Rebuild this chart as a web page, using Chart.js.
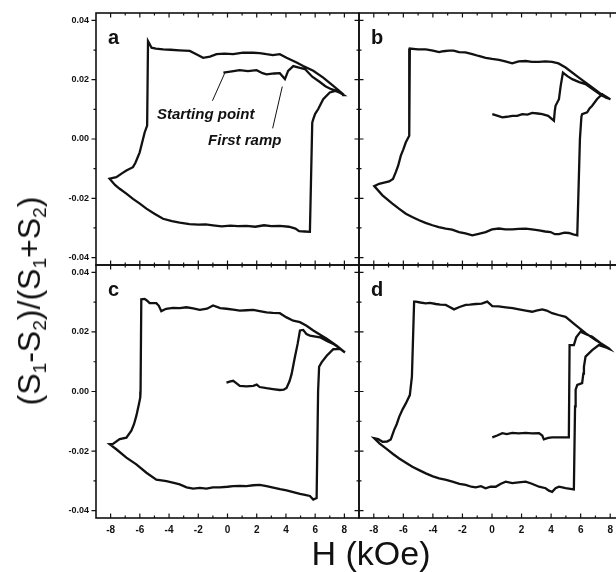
<!DOCTYPE html>
<html>
<head>
<meta charset="utf-8">
<script src="https://cdn.jsdelivr.net/npm/chart.js@4.4.0/dist/chart.umd.min.js"></script>
<style>
  html, body { margin: 0; padding: 0; background: #fff; }
  #wrap { position: relative; width: 616px; height: 572px; overflow: hidden; }
  canvas { position: absolute; left: 0; top: 0; }
  .ytitle {
    position: absolute; left: 29px; top: 301px;
    transform: translate(-50%, -50%) rotate(-90deg);
    font: 32px "Liberation Sans", Arial, sans-serif; color: #111;
    white-space: nowrap; line-height: 32px;
  }
  .ytitle sub { font-size: 0.6em; vertical-align: -0.3em; line-height: 0; }
  .xtitle {
    position: absolute; left: 371px; top: 536px;
    transform: translateX(-50%);
    font: 34px "Liberation Sans", Arial, sans-serif; color: #111;
    white-space: nowrap; line-height: 34px;
  }
</style>
</head>
<body>
<div id="wrap">
  <canvas id="pa" width="640" height="572"></canvas>
  <canvas id="pb" width="640" height="572"></canvas>
  <canvas id="pc" width="640" height="572"></canvas>
  <canvas id="pd" width="640" height="572"></canvas>
  <div class="ytitle">(S<sub>1</sub>-S<sub>2</sub>)/(S<sub>1</sub>+S<sub>2</sub>)</div>
  <div class="xtitle">H (kOe)</div>
</div>
<script>
// tick values
const xTicks = [-8, -6, -4, -2, 0, 2, 4, 6, 8];
const yTicks = [-0.04, -0.02, 0.00, 0.02, 0.04];

// [H (kOe), (S1-S2)/(S1+S2)], in sweep order
const loopA = [
  [-0.28, 0.0224], [0.3, 0.0228], [0.84, 0.0232], [1.4, 0.0229], [1.99, 0.0232], [2.4, 0.0222],
  [2.67, 0.0218], [3.2, 0.0221], [3.58, 0.0222], [3.93, 0.0202], [4.15, 0.023], [4.5, 0.0246],
  [4.96, 0.024], [5.3, 0.0236], [5.8, 0.021], [6.3, 0.0193], [6.7, 0.0178], [7.1, 0.0168],
  [7.5, 0.0162], [7.95, 0.0148],
  [7.92, 0.0151], [7.24, 0.0179], [6.55, 0.0207], [5.87, 0.023], [5.18, 0.0246], [4.73, 0.0258],
  [4.04, 0.0274], [3.58, 0.0286], [3.1, 0.0283], [2.67, 0.0286], [2.2, 0.029], [1.76, 0.0291],
  [1.07, 0.0291], [0.39, 0.0286], [-0.2, 0.0288], [-0.75, 0.0286], [-1.2, 0.0278], [-1.67, 0.0274],
  [-2.1, 0.0285], [-2.58, 0.0297], [-3.3, 0.0299], [-3.9, 0.0301], [-4.41, 0.0302], [-4.9, 0.0305],
  [-5.2, 0.0308], [-5.35, 0.0322], [-5.44, 0.033],
  [-5.5, 0.0045], [-5.67, 0.0022], [-6.01, -0.0045], [-6.3, -0.008], [-6.47, -0.0095],
  [-6.92, -0.0106], [-7.2, -0.0115], [-7.61, -0.0129], [-8.07, -0.0134],
  [-7.7, -0.0155], [-7.38, -0.0168], [-6.9, -0.0185], [-6.47, -0.0202], [-6.0, -0.0218],
  [-5.55, -0.0235], [-5.0, -0.0252], [-4.41, -0.0269], [-3.8, -0.0277], [-3.27, -0.0282],
  [-2.6, -0.0287], [-2.0, -0.0289], [-1.5, -0.0288], [-0.99, -0.0291], [-0.4, -0.0295],
  [0.2, -0.0292], [0.7, -0.0294], [1.3, -0.0293], [1.9, -0.0296], [2.5, -0.0291], [3.0, -0.0294],
  [3.58, -0.0293], [4.2, -0.0296], [4.65, -0.0302], [4.9, -0.0311], [5.3, -0.0312], [5.64, -0.0313],
  [5.8, 0.0055], [5.87, 0.0067], [6.0, 0.0085], [6.21, 0.0101], [6.4, 0.012], [6.55, 0.0134],
  [7.0, 0.0157], [7.4, 0.0162], [7.92, 0.0151]
];

const loopB = [
  [0.02, 0.0084], [0.4, 0.0078], [0.7, 0.0073], [1.0, 0.0075], [1.37, 0.0078], [1.7, 0.0078],
  [2.05, 0.0084], [2.4, 0.0082], [2.72, 0.0088], [3.1, 0.0086], [3.4, 0.0084], [3.8, 0.0078],
  [4.19, 0.0062], [4.25, 0.0095], [4.3, 0.0112], [4.53, 0.0134], [4.65, 0.018], [4.8, 0.0224],
  [5.1, 0.0212], [5.43, 0.0202], [5.9, 0.0192], [6.33, 0.0185], [6.9, 0.0165], [7.45, 0.0146],
  [8.02, 0.0134],
  [7.68, 0.014], [6.78, 0.0174], [5.88, 0.0207], [4.98, 0.0241], [4.5, 0.0255], [4.07, 0.026],
  [3.6, 0.0262], [3.18, 0.026], [2.7, 0.026], [2.28, 0.0263], [1.8, 0.0262], [1.37, 0.0255],
  [0.9, 0.0262], [0.47, 0.0267], [0.0, 0.027], [-0.43, 0.0274], [-0.9, 0.028], [-1.33, 0.0286],
  [-1.8, 0.0292], [-2.23, 0.0293], [-2.6, 0.0298], [-2.91, 0.0298], [-3.3, 0.0296],
  [-3.58, 0.0293], [-4.0, 0.0298], [-4.48, 0.0302], [-5.0, 0.0302], [-5.56, 0.0305],
  [-5.6, 0.0011], [-5.83, -0.0011], [-6.0, -0.0035], [-6.17, -0.0056], [-6.35, -0.009],
  [-6.51, -0.0112], [-6.7, -0.0135], [-6.96, -0.0143], [-7.3, -0.0147], [-7.64, -0.0151],
  [-7.97, -0.0159],
  [-7.41, -0.019], [-6.74, -0.0218], [-6.3, -0.0235], [-5.83, -0.0252], [-5.4, -0.0263],
  [-4.93, -0.0274], [-4.5, -0.0283], [-4.03, -0.0291], [-3.6, -0.0297], [-3.13, -0.0302],
  [-2.7, -0.0306], [-2.23, -0.0314], [-1.8, -0.0318], [-1.33, -0.0325], [-0.9, -0.032],
  [-0.43, -0.0314], [0.0, -0.0305], [0.47, -0.0302], [0.9, -0.0305], [1.37, -0.0305],
  [1.8, -0.0303], [2.28, -0.0302], [2.7, -0.0305], [3.18, -0.0308], [3.6, -0.0312],
  [3.97, -0.0314], [4.25, -0.0321], [4.53, -0.0321], [4.9, -0.0316], [5.2, -0.0317],
  [5.5, -0.0322], [5.77, -0.0325],
  [5.95, 0.0], [6.05, 0.0075], [6.1, 0.0084], [6.44, 0.009], [6.6, 0.0103], [6.78, 0.0112],
  [7.1, 0.0134], [7.45, 0.0151], [8.0, 0.0134]
];

const loopC = [
  [-0.07, 0.003], [0.2, 0.0034], [0.39, 0.0036], [0.6, 0.0028], [0.84, 0.0019], [1.3, 0.0017],
  [1.76, 0.0019], [2.0, 0.0023], [2.2, 0.0015], [2.67, 0.0011], [3.1, 0.0008], [3.58, 0.0005],
  [3.85, 0.0006], [4.04, 0.0012], [4.25, 0.0035], [4.39, 0.0059], [4.61, 0.0115], [4.8, 0.016],
  [4.96, 0.0205], [5.18, 0.0207], [5.4, 0.0193], [5.64, 0.0188], [6.33, 0.0182], [6.8, 0.017],
  [7.24, 0.016], [7.6, 0.0148], [8.04, 0.0131],
  [7.47, 0.0154], [6.79, 0.0177], [5.87, 0.0205], [5.41, 0.0221], [4.96, 0.0233], [4.5, 0.0238],
  [4.04, 0.0249], [3.58, 0.0263], [3.1, 0.0264], [2.67, 0.0266], [2.2, 0.027], [1.76, 0.0274],
  [1.3, 0.0273], [0.84, 0.0272], [0.4, 0.0275], [-0.07, 0.0278], [-0.5, 0.028], [-0.99, 0.0289],
  [-1.4, 0.0278], [-1.9, 0.0274], [-2.35, 0.0279], [-2.81, 0.0283], [-3.27, 0.028],
  [-3.73, 0.0281], [-4.2, 0.0278], [-4.53, 0.027], [-4.7, 0.0288], [-4.87, 0.0297],
  [-5.1, 0.0297], [-5.33, 0.0297], [-5.5, 0.0305], [-5.67, 0.0311], [-5.9, 0.031],
  [-5.95, 0.0], [-5.97, -0.002], [-6.06, -0.0042], [-6.24, -0.0082], [-6.4, -0.011],
  [-6.58, -0.0132], [-6.92, -0.0155], [-7.38, -0.016], [-7.84, -0.0176], [-8.07, -0.0177],
  [-7.61, -0.0194], [-6.92, -0.0222], [-6.24, -0.0245], [-5.55, -0.0273], [-4.87, -0.0296],
  [-4.18, -0.0301], [-3.6, -0.0308], [-3.27, -0.0312], [-2.8, -0.0322], [-2.35, -0.0326],
  [-1.9, -0.0324], [-1.44, -0.0326], [-1.0, -0.0322], [-0.53, -0.0322], [0.0, -0.032],
  [0.39, -0.0318], [0.84, -0.0317], [1.3, -0.0318], [1.76, -0.0315], [2.21, -0.0314],
  [2.67, -0.0318], [3.13, -0.0323], [3.6, -0.0328], [4.04, -0.0332], [4.5, -0.0338],
  [4.96, -0.0344], [5.3, -0.0347], [5.64, -0.0351], [5.87, -0.0363], [6.1, -0.0358],
  [6.2, 0.0], [6.27, 0.0083], [6.44, 0.0098], [6.79, 0.012], [7.24, 0.0142], [7.7, 0.0143],
  [8.04, 0.0131]
];

const loopD = [
  [0.02, -0.0154], [0.35, -0.0148], [0.7, -0.014], [1.0, -0.0143], [1.37, -0.0139], [1.8, -0.0141],
  [2.28, -0.0139], [2.7, -0.0141], [3.18, -0.014], [3.4, -0.0148], [3.51, -0.0161], [3.8, -0.0156],
  [4.07, -0.0154], [4.6, -0.0154], [5.2, -0.0154], [5.25, 0.0156], [5.54, 0.0156], [5.7, 0.0182],
  [5.99, 0.0201], [6.4, 0.0192], [6.78, 0.0184], [7.2, 0.0168], [7.68, 0.0149], [7.95, 0.0143],
  [7.91, 0.0145], [7.01, 0.0173], [6.33, 0.0196], [5.66, 0.0223], [4.98, 0.0251], [4.5, 0.0257],
  [4.07, 0.0263], [3.7, 0.0272], [3.4, 0.0276], [3.0, 0.0272], [2.72, 0.0268], [2.28, 0.0272],
  [1.82, 0.0276], [1.4, 0.028], [0.93, 0.0283], [0.45, 0.0286], [0.02, 0.0287], [-0.32, 0.0302],
  [-0.7, 0.0295], [-1.1, 0.0294], [-1.5, 0.0292], [-1.78, 0.0291], [-2.2, 0.0284], [-2.57, 0.0276],
  [-2.9, 0.0285], [-3.13, 0.0291], [-3.5, 0.0292], [-3.8, 0.0294], [-4.2, 0.0298], [-4.48, 0.0296],
  [-4.85, 0.0299], [-5.16, 0.0302], [-5.27, 0.0302],
  [-5.42, 0.005], [-5.56, -0.0012], [-5.83, -0.004], [-6.05, -0.006], [-6.28, -0.0085],
  [-6.45, -0.011], [-6.62, -0.0129], [-6.85, -0.0161], [-7.1, -0.0168], [-7.41, -0.0169],
  [-7.7, -0.016], [-7.97, -0.0157],
  [-7.6, -0.0175], [-7.18, -0.0191], [-6.7, -0.021], [-6.28, -0.0225], [-5.8, -0.024],
  [-5.39, -0.0253], [-4.9, -0.0265], [-4.48, -0.0275], [-4.0, -0.0285], [-3.58, -0.0292],
  [-3.1, -0.0297], [-2.68, -0.0303], [-2.2, -0.031], [-1.78, -0.0314], [-1.4, -0.032],
  [-1.1, -0.0322], [-0.75, -0.0318], [-0.43, -0.0325], [-0.1, -0.032], [0.25, -0.032],
  [0.6, -0.031], [0.93, -0.0303], [1.37, -0.0308], [1.8, -0.0305], [2.28, -0.0303], [2.7, -0.031],
  [3.18, -0.032], [3.63, -0.0325], [3.85, -0.0333], [4.07, -0.0337], [4.3, -0.0325],
  [4.53, -0.032], [4.98, -0.0325], [5.3, -0.0327], [5.54, -0.0329],
  [5.62, -0.005], [5.66, 0.0006], [5.77, 0.0022], [6.1, 0.0028], [6.18, 0.006], [6.22, 0.0083],
  [6.33, 0.0117], [6.78, 0.0139], [7.23, 0.0156], [7.91, 0.0145]
];

const INK = '#111';
const FONT = '"Liberation Sans", Arial, sans-serif';

function midpoints(arr) {
  const out = [];
  for (let i = 0; i < arr.length - 1; i++) out.push((arr[i] + arr[i + 1]) / 2);
  return out;
}

// box, ticks, panel letter and notes
const framePlugin = {
  id: 'frame',
  afterDraw(chart, args, opts) {
    const { ctx, chartArea: a, scales: { x, y } } = chart;
    ctx.save();
    ctx.strokeStyle = INK;
    ctx.lineWidth = 1.6;
    ctx.strokeRect(a.left, a.top, a.right - a.left, a.bottom - a.top);

    ctx.lineWidth = 1.2;
    ctx.beginPath();
    const xTick = (v, len) => {
      const px = x.getPixelForValue(v);
      ctx.moveTo(px, a.bottom); ctx.lineTo(px, a.bottom - len);
      ctx.moveTo(px, a.top); ctx.lineTo(px, a.top + len);
    };
    const yTick = (v, len) => {
      const py = y.getPixelForValue(v);
      const inner = opts.yTicks === 'both' ? len : 0;
      ctx.moveTo(a.left - len, py); ctx.lineTo(a.left + inner, py);
    };
    xTicks.forEach(v => xTick(v, 4.5));
    midpoints(xTicks).forEach(v => xTick(v, 2.5));
    yTicks.forEach(v => yTick(v, 4.5));
    midpoints(yTicks).forEach(v => yTick(v, 2.5));
    ctx.stroke();

    ctx.fillStyle = INK;
    ctx.font = 'bold 20px ' + FONT;
    ctx.textBaseline = 'alphabetic';
    ctx.fillText(opts.letter, a.left + 12, a.top + 31);

    (opts.notes || []).forEach(n => {
      ctx.font = 'italic bold 15px ' + FONT;
      ctx.fillText(n.text, x.getPixelForValue(n.h), y.getPixelForValue(n.s));
    });
    ctx.lineWidth = 1;
    ctx.beginPath();
    (opts.leaders || []).forEach(l => {
      ctx.moveTo(x.getPixelForValue(l[0]), y.getPixelForValue(l[1]));
      ctx.lineTo(x.getPixelForValue(l[2]), y.getPixelForValue(l[3]));
    });
    ctx.stroke();
    ctx.restore();
  }
};

function makePanel(id, loop, pad, showX, showY, frame) {
  new Chart(document.getElementById(id), {
    type: 'scatter',
    data: {
      datasets: [{
        data: loop.map(p => ({ x: p[0], y: p[1] })),
        showLine: true,
        borderColor: INK,
        borderWidth: 2.3,
        pointRadius: 0,
        tension: 0,
        fill: false
      }]
    },
    options: {
      responsive: false,
      animation: false,
      devicePixelRatio: 1,
      layout: { padding: pad },
      plugins: { legend: { display: false }, tooltip: { enabled: false }, frame: frame },
      scales: {
        x: {
          type: 'linear', min: -9, max: 9, display: showX,
          grid: { display: false, drawTicks: false },
          border: { display: false },
          afterBuildTicks: s => { s.ticks = xTicks.map(v => ({ value: v })); },
          afterFit: s => { s.height = showX ? 20 : 0; },
          ticks: {
            color: INK, padding: 6, maxRotation: 0, autoSkip: false,
            font: { family: FONT, size: 10, weight: 'bold' },
            callback: v => String(v)
          }
        },
        y: {
          type: 'linear', min: -0.0425, max: 0.0425, display: showY,
          grid: { display: false, drawTicks: false },
          border: { display: false },
          afterBuildTicks: s => { s.ticks = yTicks.map(v => ({ value: v })); },
          afterFit: s => { s.width = showY ? 96 : 0; },
          ticks: {
            color: INK, padding: 7, autoSkip: false,
            font: { family: FONT, size: 9, weight: 'bold' },
            callback: v => Number(v).toFixed(2)
          }
        }
      }
    },
    plugins: [framePlugin]
  });
}

makePanel('pa', loopA, { left: 0, top: 13, right: 281, bottom: 307 }, false, true, {
  letter: 'a', yTicks: 'out',
  notes: [{ text: 'Starting point', h: -4.83, s: 0.0067 }, { text: 'First ramp', h: -1.33, s: -0.0019 }],
  leaders: [[-1.03, 0.0129, -0.19, 0.0222], [3.09, 0.0036, 3.75, 0.0177]]
});
makePanel('pb', loopB, { left: 359, top: 13, right: 15, bottom: 307 }, false, false, { letter: 'b', yTicks: 'both' });
makePanel('pc', loopC, { left: 0, top: 265, right: 281, bottom: 34 }, true, true, { letter: 'c', yTicks: 'out' });
makePanel('pd', loopD, { left: 359, top: 265, right: 15, bottom: 34 }, true, false, { letter: 'd', yTicks: 'both' });
</script>
</body>
</html>
